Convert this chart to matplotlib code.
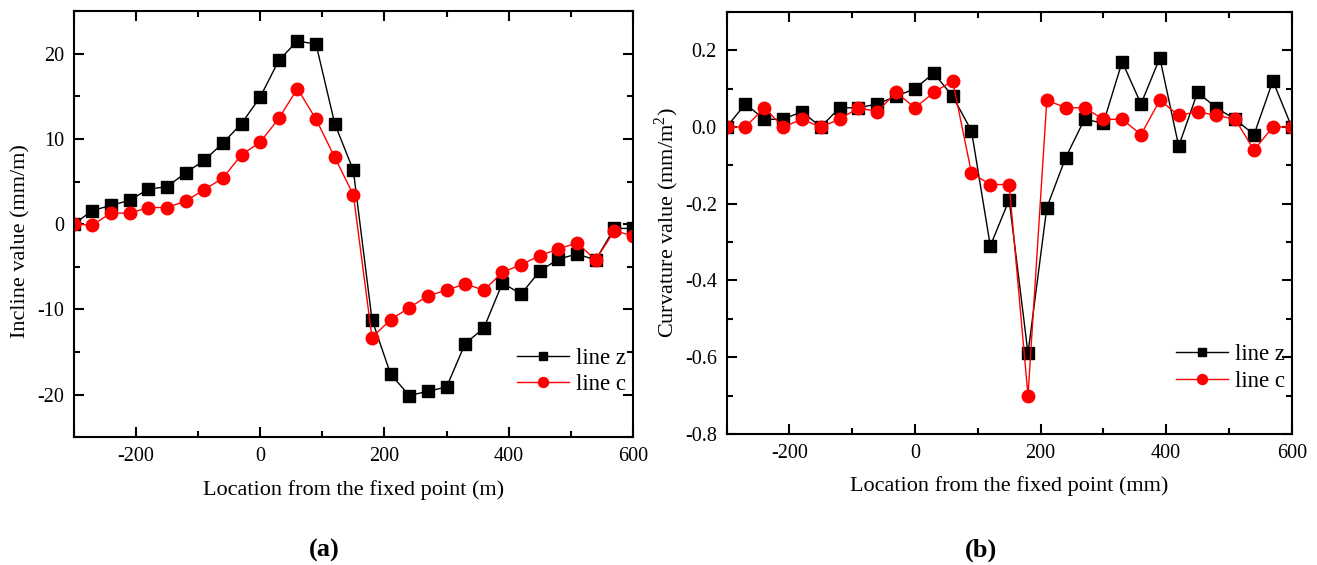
import matplotlib.pyplot as plt
from matplotlib.ticker import MultipleLocator, FormatStrFormatter

plt.rcParams.update({
    "font.family": ["Liberation Serif", "DejaVu Serif"],
    "mathtext.fontset": "custom", "mathtext.rm": "Liberation Serif",
    "axes.unicode_minus": False,
    "xtick.direction": "in", "ytick.direction": "in",
    "xtick.top": True, "ytick.right": True,
})

# --- Data ---
x = list(range(-300, 601, 30))

incline_z = [0, 1.6, 2.2, 2.8, 4.1, 4.4, 6.0, 7.5, 9.5, 11.8, 14.9, 19.2, 21.5, 21.1,
             11.8, 6.3, -11.2, -17.6, -20.1, -19.6, -19.1, -14.0, -12.2, -6.9, -8.2,
             -5.5, -4.1, -3.5, -4.2, -0.5, -0.5]
incline_c = [0, -0.1, 1.3, 1.3, 1.95, 1.95, 2.7, 4.05, 5.4, 8.15, 9.6, 12.4, 15.9, 12.3,
             7.85, 3.45, -13.3, -11.2, -9.8, -8.4, -7.75, -7.0, -7.75, -5.65, -4.75,
             -3.7, -2.9, -2.2, -4.2, -0.8, -1.35]

curv_z = [0.0, 0.06, 0.02, 0.02, 0.04, 0.0, 0.05, 0.05, 0.06, 0.08, 0.10, 0.14, 0.08, -0.01,
          -0.31, -0.19, -0.59, -0.21, -0.08, 0.02, 0.01, 0.17, 0.06, 0.18, -0.05,
          0.09, 0.05, 0.02, -0.02, 0.12, 0.0]
curv_c = [0.0, 0.0, 0.05, 0.0, 0.02, 0.0, 0.02, 0.05, 0.04, 0.09, 0.05, 0.09, 0.12, -0.12,
          -0.15, -0.15, -0.70, 0.07, 0.05, 0.05, 0.02, 0.02, -0.02, 0.07, 0.03,
          0.04, 0.03, 0.02, -0.06, 0.0, 0.0]

fig = plt.figure(figsize=(13.17, 5.65), dpi=100)
ax1 = fig.add_axes([0.056, 0.226, 0.4246, 0.7545])
ax2 = fig.add_axes([0.5517, 0.232, 0.4291, 0.747])

def style(ax):
    for s in ax.spines.values():
        s.set_linewidth(1.5)
    ax.tick_params(which="major", length=7, width=1.5, labelsize=14.5, pad=7)
    ax.tick_params(which="minor", length=4, width=1.5)
    ax.set_xlim(-300, 600)
    ax.xaxis.set_major_locator(MultipleLocator(200))
    ax.xaxis.set_minor_locator(MultipleLocator(100))

def legend(ax):
    ax.legend(loc="lower right", bbox_to_anchor=(1.025, 0.05), frameon=False, fontsize=16.5,
              handlelength=2.3, handletextpad=0.3, labelspacing=0.25, markerscale=0.8)

# (a) incline
ax1.plot(x, incline_z, "-s", color="black", lw=1, ms=8, label="line z")
ax1.plot(x, incline_c, "-o", color="red", lw=1, ms=9, label="line c")
style(ax1)
ax1.set_ylim(-25, 25)
ax1.yaxis.set_major_locator(MultipleLocator(10))
ax1.yaxis.set_minor_locator(MultipleLocator(5))
ax1.set_xlabel("Location from the fixed point (m)", fontsize=16, labelpad=10)
ax1.set_ylabel("Incline value (mm/m)", fontsize=16)
ax1.yaxis.set_label_coords(-0.078, 0.46)
legend(ax1)
fig.text(0.246, 0.015, "(a)", fontsize=19, fontweight="bold", ha="center")

# (b) curvature
ax2.plot(x, curv_z, "-s", color="black", lw=1, ms=8, label="line z")
ax2.plot(x, curv_c, "-o", color="red", lw=1, ms=9, label="line c")
style(ax2)
ax2.set_ylim(-0.8, 0.3)
ax2.yaxis.set_major_locator(MultipleLocator(0.2))
ax2.yaxis.set_minor_locator(MultipleLocator(0.1))
ax2.yaxis.set_major_formatter(FormatStrFormatter("%.1f"))
ax2.set_xlabel("Location from the fixed point (mm)", fontsize=16, labelpad=10)
ax2.set_ylabel("Curvature value (mm/m$^2$)", fontsize=16, labelpad=3)
legend(ax2)
fig.text(0.745, 0.015, "(b)", fontsize=19, fontweight="bold", ha="center")

fig.savefig("out.png", dpi=100)
